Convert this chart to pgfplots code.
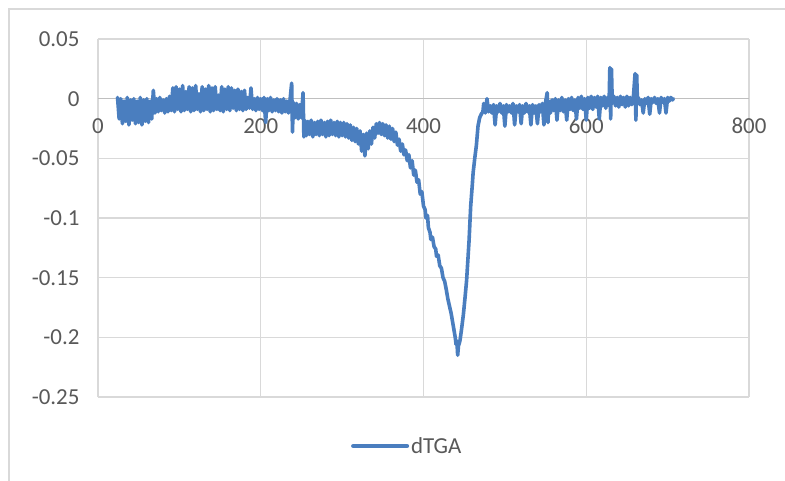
\documentclass[border=0pt]{standalone}
\usepackage{fontspec}
\setmainfont{Carlito}
\usepackage{pgfplots}
\usepackage{pgfplotstable}
\pgfplotsset{compat=1.18}
\definecolor{serie}{HTML}{4A7EBF}
\definecolor{gridc}{HTML}{D9D9D9}
\definecolor{axc}{HTML}{BFBFBF}
\definecolor{txt}{HTML}{595959}
\pgfplotstableread{
x y
24 0.001
26 -0.017
28 0.000
30 -0.021
32 -0.002
34 -0.019
36 0.001
38 -0.022
40 -0.001
42 -0.018
44 0.000
46 -0.021
48 -0.002
50 -0.020
52 0.001
54 -0.022
56 -0.001
58 -0.019
60 0.000
62 -0.020
64 -0.002
66 -0.017
68 0.007
70 -0.012
72 0.000
74 -0.011
76 0.001
78 -0.010
80 -0.001
82 -0.012
84 0.000
86 -0.011
88 0.002
90 -0.010
92 0.009
94 -0.011
96 0.010
98 -0.009
100 0.008
102 -0.011
104 0.011
106 -0.010
108 0.006
110 -0.009
112 0.010
114 -0.011
116 0.009
118 -0.010
120 0.011
122 -0.009
124 0.004
126 -0.011
128 0.010
130 -0.010
132 0.008
134 -0.009
136 0.011
138 -0.011
140 0.009
142 -0.010
144 0.010
146 -0.009
148 0.003
150 -0.010
152 0.010
154 -0.011
156 0.008
158 -0.009
160 0.010
162 -0.010
164 0.009
166 -0.008
168 0.007
170 -0.010
172 0.008
174 -0.009
176 0.006
178 -0.010
180 0.007
182 -0.009
184 0.001
186 -0.008
188 0.009
190 -0.009
192 0.000
194 -0.010
196 0.001
198 -0.009
200 0.000
202 -0.010
204 0.001
206 -0.020
208 0.000
210 -0.010
212 0.001
214 -0.011
216 -0.001
218 -0.010
220 0.000
222 -0.011
224 -0.001
226 -0.012
228 0.000
230 -0.011
232 -0.002
234 -0.012
236 -0.001
238 0.013
239 -0.028
240 -0.003
242 -0.016
244 -0.004
246 -0.017
248 -0.005
250 -0.016
252 0.005
253 -0.032
254 -0.018
256 -0.031
258 -0.019
260 -0.030
262 -0.018
264 -0.032
266 -0.020
268 -0.030
270 -0.019
272 -0.031
274 -0.018
276 -0.030
278 -0.020
280 -0.032
282 -0.019
284 -0.031
286 -0.018
288 -0.030
290 -0.020
292 -0.031
294 -0.019
296 -0.032
298 -0.020
300 -0.031
302 -0.020
304 -0.032
306 -0.021
308 -0.033
310 -0.022
312 -0.035
314 -0.024
316 -0.036
318 -0.025
320 -0.038
322 -0.027
324 -0.044
326 -0.030
328 -0.048
330 -0.029
332 -0.042
334 -0.027
336 -0.038
338 -0.024
340 -0.033
342 -0.021
344 -0.029
346 -0.020
348 -0.030
350 -0.021
352 -0.031
354 -0.022
356 -0.033
358 -0.023
360 -0.034
362 -0.025
364 -0.036
366 -0.028
368 -0.039
370 -0.034
372 -0.044
374 -0.038
376 -0.047
378 -0.043
380 -0.052
382 -0.047
384 -0.058
386 -0.052
388 -0.064
390 -0.060
392 -0.070
394 -0.068
396 -0.080
398 -0.078
400 -0.090
402 -0.093
403 -0.100
405 -0.098
406 -0.108
408 -0.112
409 -0.118
411 -0.116
413 -0.124
415 -0.126
416 -0.132
418 -0.131
420 -0.140
422 -0.142
424 -0.150
426 -0.153
428 -0.160
430 -0.168
432 -0.174
434 -0.180
436 -0.188
438 -0.196
439 -0.200
440 -0.206
441 -0.203
442 -0.215
443 -0.207
444 -0.205
445 -0.202
447 -0.192
449 -0.181
451 -0.167
453 -0.152
455 -0.130
456 -0.119
458 -0.090
460 -0.072
461 -0.062
463 -0.050
465 -0.039
467 -0.023
469 -0.016
471 -0.013
473 -0.011
474 -0.004
476 -0.012
478 0.000
480 -0.011
482 -0.006
484 -0.012
486 -0.005
488 -0.022
490 -0.006
492 -0.011
494 -0.004
496 -0.012
498 -0.006
500 -0.023
502 -0.005
504 -0.011
506 -0.006
508 -0.012
510 -0.004
512 -0.022
514 -0.006
516 -0.011
518 -0.005
520 -0.021
522 -0.006
524 -0.012
526 -0.004
528 -0.011
530 -0.006
532 -0.022
534 -0.005
536 -0.012
538 -0.006
540 -0.021
542 -0.005
544 -0.011
546 -0.004
548 -0.022
550 -0.003
552 0.005
553 -0.020
554 -0.002
556 -0.012
558 -0.001
560 -0.010
562 0.000
564 -0.018
566 -0.001
568 -0.010
570 0.001
572 -0.011
574 -0.001
576 -0.018
578 0.000
580 -0.009
582 0.001
584 -0.010
586 -0.001
588 -0.017
590 0.001
592 -0.008
594 0.002
596 -0.009
598 0.000
600 -0.018
602 0.001
604 -0.008
606 0.002
608 -0.009
610 0.001
612 -0.007
614 0.002
616 -0.017
618 0.001
620 -0.006
622 0.002
624 -0.008
626 0.001
628 -0.006
629 0.026
630 -0.017
631 0.025
632 -0.004
634 0.002
636 -0.006
638 0.001
640 -0.007
642 0.002
644 -0.005
646 0.001
648 -0.007
650 0.002
652 -0.006
654 0.001
656 -0.005
658 0.002
660 0.021
661 -0.018
662 0.020
663 -0.004
664 0.001
666 -0.005
668 -0.001
670 -0.012
672 0.000
674 -0.004
676 0.001
678 -0.013
680 0.000
682 -0.003
684 0.001
686 -0.004
688 0.000
690 -0.012
692 0.001
694 -0.003
696 0.000
698 -0.012
700 0.001
702 -0.002
704 0.001
706 -0.001
707 0.000
}\dtga
\begin{document}
\begin{tikzpicture}
\useasboundingbox (-98bp,-84bp) rectangle (687bp,397bp);
\fill[white] (-98bp,-84bp) rectangle (687bp,397bp);
\draw[gridc, line width=1.2bp] (-89bp,-95bp) -- (-89bp,388bp) -- (700bp,388bp);
\begin{axis}[
  at={(0,0)}, anchor=south west,
  scale only axis, width=651bp, height=358bp,
  xmin=0, xmax=800, ymin=-0.25, ymax=0.05,
  xtick={0,200,400,600,800},
  xticklabels={0,200,400,600,800},
  ytick={-0.25,-0.2,-0.15,-0.1,-0.05,0,0.05},
  yticklabels={-0.25,-0.2,-0.15,-0.1,-0.05,0,0.05},
  axis x line*=middle, axis y line*=left,
  x axis line style={draw=axc, line width=1.2bp},
  y axis line style={draw=none},
  hide obscured x ticks=false,
  hide obscured y ticks=false,
  major tick length=0pt,
  grid=major,
  major grid style={draw=gridc, line width=1.2bp},
  tick label style={font=\fontsize{23}{27}\selectfont, text=txt},
  xticklabel style={anchor=north, yshift=-16bp},
  yticklabel style={anchor=east, xshift=-15bp},
  legend style={at={(0.475,-0.137)}, anchor=center, draw=none, fill=none,
    font=\fontsize{23}{27}\selectfont, text=txt, inner sep=0pt},
  legend image code/.code={\draw[#1, line width=4bp] (0bp,0bp) -- (54bp,0bp);},
  legend cell align=left,
]
\addplot[serie, line width=3.6bp, line join=round, line cap=round] table[x=x,y=y] {\dtga};
\addlegendentry{dTGA}
\end{axis}
\end{tikzpicture}
\end{document}
